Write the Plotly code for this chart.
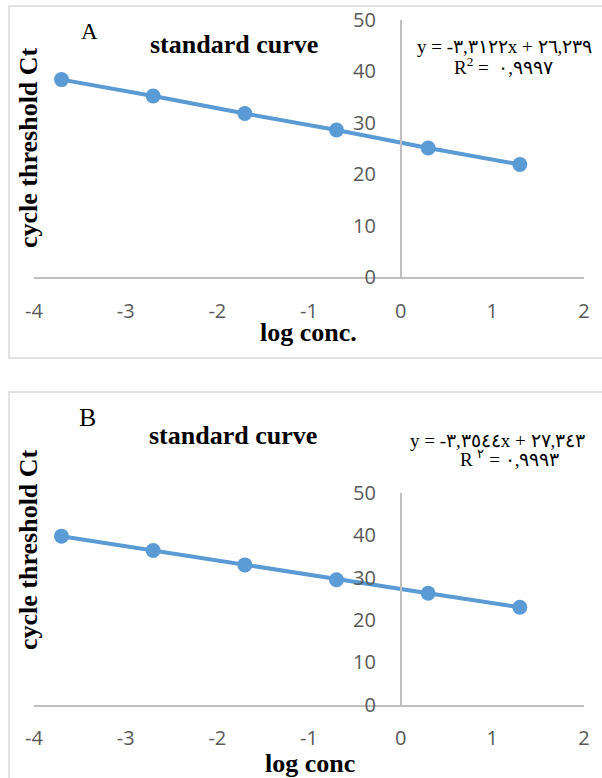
import numpy as np
import plotly.graph_objects as go

# ---------------- data ----------------
log_conc = [-3.7, -2.7, -1.7, -0.7, 0.3, 1.3]
ct_a = [38.4, 35.2, 31.8, 28.6, 25.1, 21.9]
ct_b = [39.8, 36.4, 33.0, 29.5, 26.3, 23.0]
x_ticks = [-4, -3, -2, -1, 0, 1, 2]
y_ticks = [0, 10, 20, 30, 40, 50]
LRM = "\u200e"
eq_a = ["y = -٣,٣١٢٢x + ٢٦,٢٣٩", "R<sup>2</sup> =  ٠,٩٩٩٧"]
eq_b = ["y = -٣,٣٥٤٤x + ٢٧,٣٤٣", "R <sup>٢</sup>" + LRM + " = ٠,٩٩٩٣"]
panel_labels = ["A", "B"]
chart_title = "standard curve"
y_title = "cycle threshold Ct"
x_titles = ["log conc.", "log conc"]

# ---------------- helpers ----------------
W, H = 602, 778
def px(v):
    return v / W
def py(v):
    return 1 - v / H

BLUE = "#5B9BD5"
AXIS = "#BFBFBF"
TICKC = "#595959"
SERIF = "Liberation Serif, Times New Roman, serif"
SANS = "Open Sans, Noto Sans, sans-serif"

fig = go.Figure()

for i, (vals, xa, ya) in enumerate([(ct_a, "x", "y"), (ct_b, "x2", "y2")]):
    k, b = np.polyfit(log_conc, vals, 1)
    xt = np.array([min(log_conc), max(log_conc)])
    fig.add_trace(go.Scatter(x=xt, y=k * xt + b, mode="lines",
                             line=dict(color=BLUE, width=2.5, dash="dot"),
                             xaxis=xa, yaxis=ya, showlegend=False, hoverinfo="skip"))
    fig.add_trace(go.Scatter(x=log_conc, y=vals, mode="lines+markers",
                             line=dict(color=BLUE, width=4),
                             marker=dict(color=BLUE, size=15),
                             xaxis=xa, yaxis=ya, showlegend=False))

xdom = [px(34), px(584)]
ypos = px(400.7)
common_x = dict(domain=xdom, range=[-4, 2], tickvals=x_ticks, ticktext=[str(v) for v in x_ticks],
                showgrid=False, zeroline=False, automargin=False,
                showline=True, linecolor=AXIS, linewidth=1.5, ticks="outside", ticklen=15,
                tickcolor="rgba(0,0,0,0)", tickfont=dict(family=SANS, size=20, color=TICKC),
                fixedrange=True)
common_y = dict(range=[0, 50], tickvals=y_ticks, ticktext=[str(v) for v in y_ticks],
                showgrid=False, zeroline=False, automargin=False,
                showline=True, linecolor=AXIS, linewidth=1.5, ticks="outside", ticklen=20,
                tickcolor="rgba(0,0,0,0)", tickfont=dict(family=SANS, size=20, color=TICKC),
                anchor="free", position=ypos, fixedrange=True)

fig.update_layout(
    xaxis=dict(common_x, anchor="y"),
    yaxis=dict(common_y, domain=[py(277), py(20)]),
    xaxis2=dict(common_x, anchor="y2"),
    yaxis2=dict(common_y, domain=[py(704.5), py(493)]),
)

shapes = [
    dict(type="rect", xref="paper", yref="paper", x0=px(9), x1=px(612), y0=py(358), y1=py(6),
         line=dict(color="#D9D9D9", width=1.5), fillcolor="rgba(0,0,0,0)", layer="below"),
    dict(type="rect", xref="paper", yref="paper", x0=px(9), x1=px(612), y0=py(795), y1=py(392),
         line=dict(color="#D9D9D9", width=1.5), fillcolor="rgba(0,0,0,0)", layer="below"),
]

def ann(text, x, y, size, bold=False, xanchor="center", angle=0, family=SERIF):
    t = f"<b>{text}</b>" if bold else text
    return dict(text=t, x=px(x), y=py(y), xref="paper", yref="paper", showarrow=False,
                xanchor=xanchor, yanchor="middle", textangle=angle,
                font=dict(family=family, size=size, color="black"))

annotations = [
    ann(panel_labels[0], 89, 31, 23),
    ann(panel_labels[1], 87, 417, 26),
    ann(chart_title, 148, 45, 26, bold=True, xanchor="left"),
    ann(chart_title, 147, 435, 26, bold=True, xanchor="left"),
    ann(y_title, 28, 148, 26, bold=True, angle=-90),
    ann(y_title, 28, 550, 26, bold=True, angle=-90),
    ann(x_titles[0], 308, 333, 26, bold=True),
    ann(x_titles[1], 310, 763, 26, bold=True),
    ann(eq_a[0], 504, 46, 19),
    ann(eq_a[1], 503, 66, 19),
    ann(eq_b[0], 497, 440, 19),
    ann(eq_b[1], 509, 458, 19),
]

fig.update_layout(width=W, height=H, autosize=False, margin=dict(l=0, r=0, t=0, b=0),
                  paper_bgcolor="white", plot_bgcolor="rgba(0,0,0,0)",
                  shapes=shapes, annotations=annotations, showlegend=False)

fig.write_html("out.html", config={"displayModeBar": False},
               post_script="document.body.style.margin='0';document.body.style.padding='0';")
